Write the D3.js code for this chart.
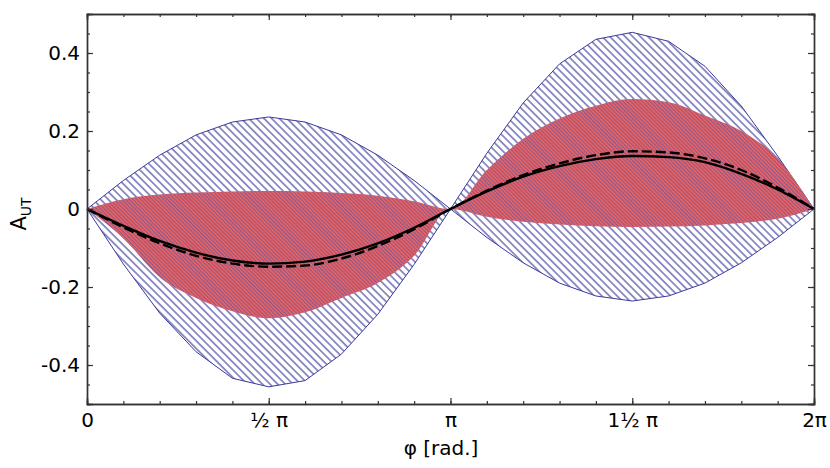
<!DOCTYPE html>
<html>
<head>
<meta charset="utf-8">
<script src="https://cdn.jsdelivr.net/npm/d3@7"></script>
<style>
  body { margin: 0; background: #fff; }
  svg text { font-family: "DejaVu Sans", sans-serif; }
</style>
</head>
<body>
<script>
// phase samples, in units of pi
var PHI_OVER_PI = [0, 0.1, 0.2, 0.3, 0.4, 0.5, 0.6, 0.7, 0.8, 0.9, 1.0,
                   1.1, 1.2, 1.3, 1.4, 1.5, 1.6, 1.7, 1.8, 1.9, 2.0];

// outer (hatched) band
var OUTER_UPPER = [0, 0.073, 0.138, 0.19, 0.223, 0.236, 0.223, 0.19, 0.138, 0.073, 0,
                   0.143, 0.272, 0.372, 0.435, 0.453, 0.43, 0.366, 0.264, 0.136, 0];
var OUTER_LOWER = [0, -0.141, -0.267, -0.366, -0.434, -0.456, -0.44, -0.372, -0.27, -0.142, 0,
                   -0.073, -0.138, -0.19, -0.223, -0.236, -0.223, -0.19, -0.138, -0.073, 0];

// inner (red) band
var RED_UPPER = [0, 0.025, 0.037, 0.042, 0.045, 0.046, 0.045, 0.041, 0.034, 0.020, 0,
                 0.10, 0.18, 0.232, 0.265, 0.282, 0.274, 0.24, 0.20, 0.13, 0];
var RED_LOWER = [0, -0.075, -0.175, -0.228, -0.262, -0.28, -0.265, -0.228, -0.19, -0.12, 0,
                 -0.02, -0.033, -0.04, -0.044, -0.046, -0.045, -0.042, -0.036, -0.025, 0];

// central curves
var SOLID  = [0, -0.043, -0.082, -0.112, -0.132, -0.14, -0.135, -0.117, -0.088, -0.048, 0,
              0.045, 0.083, 0.11, 0.128, 0.136, 0.133, 0.12, 0.09, 0.05, 0];
var DASHED = [0, -0.047, -0.088, -0.12, -0.14, -0.148, -0.145, -0.127, -0.095, -0.052, 0,
              0.047, 0.087, 0.117, 0.138, 0.148, 0.145, 0.13, 0.1, 0.055, 0];

var X_TICKS = [0, 0.5, 1, 1.5, 2];
var X_TICK_LABELS = ["0", "\u00bd \u03c0", "\u03c0", "1\u00bd \u03c0", "2\u03c0"];
var X_MINOR = d3.range(0, 2.0001, 0.1);
var Y_TICKS = [-0.4, -0.2, 0, 0.2, 0.4];
var Y_TICK_LABELS = ["-0.4", "-0.2", "0", "0.2", "0.4"];
var Y_MINOR = d3.range(-0.5, 0.5001, 0.05);

var W = 830, H = 468;
var margin = { left: 87, right: 16, top: 14, bottom: 64 };
var pw = W - margin.left - margin.right;
var ph = H - margin.top - margin.bottom;

var BLUE = "#3a3a9c";
var RED = "#e46262";

var svg = d3.select("body").append("svg")
    .attr("width", W)
    .attr("height", H);

var defs = svg.append("defs");

// diagonal "\" hatching
function hatch(id, spacing, lw, color, bg) {
    var p = defs.append("pattern")
        .attr("id", id)
        .attr("patternUnits", "userSpaceOnUse")
        .attr("width", 20)
        .attr("height", spacing)
        .attr("patternTransform", "rotate(45)");
    if (bg) {
        p.append("rect").attr("width", 20).attr("height", spacing).attr("fill", bg);
    }
    p.append("line")
        .attr("x1", 0).attr("x2", 20)
        .attr("y1", spacing / 2).attr("y2", spacing / 2)
        .attr("stroke", color)
        .attr("stroke-width", lw);
}
hatch("hatchOuter", 5.4, 1.1, BLUE, null);
hatch("hatchRed", 2.7, 0.55, "#4a4aa8", RED);

var g = svg.append("g")
    .attr("transform", "translate(" + margin.left + "," + margin.top + ")");

var x = d3.scaleLinear().domain([0, 2 * Math.PI]).range([0, pw]);
var y = d3.scaleLinear().domain([-0.5, 0.5]).range([ph, 0]);

var pts = PHI_OVER_PI.map(function (p, i) { return i; });

var redArea = d3.area()
    .x(function (i) { return x(PHI_OVER_PI[i] * Math.PI); })
    .y0(function (i) { return y(RED_LOWER[i]); })
    .y1(function (i) { return y(RED_UPPER[i]); })
    .curve(d3.curveMonotoneX);

var outerArea = d3.area()
    .x(function (i) { return x(PHI_OVER_PI[i] * Math.PI); })
    .y0(function (i) { return y(OUTER_LOWER[i]); })
    .y1(function (i) { return y(OUTER_UPPER[i]); });

function seriesLine(vals) {
    return d3.line()
        .x(function (i) { return x(PHI_OVER_PI[i] * Math.PI); })
        .y(function (i) { return y(vals[i]); })
        .curve(d3.curveMonotoneX);
}

g.append("path")
    .attr("d", outerArea(pts))
    .attr("fill", "url(#hatchOuter)")
    .attr("stroke", BLUE)
    .attr("stroke-width", 1);

g.append("path")
    .attr("d", redArea(pts))
    .attr("fill", "url(#hatchRed)");

g.append("path")
    .attr("d", seriesLine(DASHED)(pts))
    .attr("fill", "none")
    .attr("stroke", "#000")
    .attr("stroke-width", 2.4)
    .attr("stroke-dasharray", "10,4");

g.append("path")
    .attr("d", seriesLine(SOLID)(pts))
    .attr("fill", "none")
    .attr("stroke", "#000")
    .attr("stroke-width", 2.4);

// axes, ticks pointing inward
function styleAxis(sel) {
    sel.selectAll("path.domain").attr("stroke", "#333").attr("stroke-width", 1.4);
    sel.selectAll(".tick line").attr("stroke", "#333").attr("stroke-width", 1.2);
    sel.selectAll("text")
        .style("font-family", "DejaVu Sans, sans-serif")
        .style("font-size", "20px")
        .attr("fill", "#000");
}

var xMaj = X_TICKS.map(function (t) { return t * Math.PI; });
var xMin = X_MINOR.map(function (t) { return t * Math.PI; });

g.append("g").attr("transform", "translate(0," + ph + ")")
    .call(d3.axisBottom(x).tickValues(xMin).tickSize(-3).tickFormat(""))
    .call(styleAxis);
g.append("g").attr("transform", "translate(0," + ph + ")")
    .call(d3.axisBottom(x).tickValues(xMaj).tickSize(-6).tickPadding(9)
        .tickFormat(function (d, i) { return X_TICK_LABELS[i]; }))
    .call(styleAxis);
g.append("g")
    .call(d3.axisTop(x).tickValues(xMin).tickSize(-3).tickFormat(""))
    .call(styleAxis);
g.append("g")
    .call(d3.axisTop(x).tickValues(xMaj).tickSize(-6).tickFormat(""))
    .call(styleAxis);

g.append("g")
    .call(d3.axisLeft(y).tickValues(Y_MINOR).tickSize(-3).tickFormat(""))
    .call(styleAxis);
g.append("g")
    .call(d3.axisLeft(y).tickValues(Y_TICKS).tickSize(-6).tickPadding(7)
        .tickFormat(function (d, i) { return Y_TICK_LABELS[i]; }))
    .call(styleAxis);
g.append("g").attr("transform", "translate(" + pw + ",0)")
    .call(d3.axisRight(y).tickValues(Y_MINOR).tickSize(-3).tickFormat(""))
    .call(styleAxis);
g.append("g").attr("transform", "translate(" + pw + ",0)")
    .call(d3.axisRight(y).tickValues(Y_TICKS).tickSize(-6).tickFormat(""))
    .call(styleAxis);

// axis titles
svg.append("text")
    .attr("x", 441)
    .attr("y", 455)
    .attr("text-anchor", "middle")
    .style("font-size", "20px")
    .text("\u03c6 [rad.]");

var yl = svg.append("text")
    .attr("transform", "translate(26,214) rotate(-90)")
    .attr("text-anchor", "middle")
    .style("font-size", "21px");
yl.append("tspan").text("A");
yl.append("tspan")
    .attr("dy", 5)
    .style("font-size", "14px")
    .text("UT");
</script>
</body>
</html>
